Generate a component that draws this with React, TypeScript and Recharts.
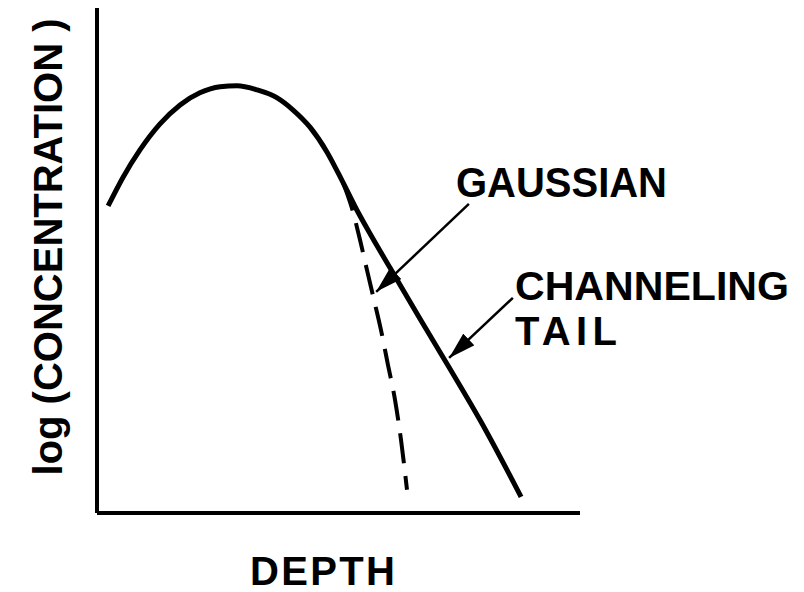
import * as React from "react"
import { ComposedChart, Line, ReferenceLine, XAxis, YAxis } from "recharts"

// implanted profile with channeling tail (solid)
const tailDepth = [2.3, 5.4, 8.9, 13.0, 17.2, 21.3, 25.5, 29.0, 33.1, 37.3, 40.6, 44.1, 47.6, 50.9, 53.8, 56.9, 60.7, 66.9, 73.1, 79.3, 87.8]
const tailLog = [60.8, 66.5, 71.9, 77.0, 80.8, 83.2, 84.4, 84.6, 83.8, 82.2, 79.8, 76.4, 71.5, 65.5, 60.0, 54.7, 48.5, 38.4, 28.5, 18.4, 3.2]

// ideal gaussian fall-off (dashed)
const gaussDepth = [50.9, 52.8, 54.45, 55.9, 57.35, 58.8, 60.25, 61.7, 62.94, 64.18]
const gaussLog = [65.5, 60.3, 54.1, 48.1, 42.2, 36.2, 29.3, 22.4, 14.5, 4.6]

// arrow pointers: [fromX, fromY, toX, toY]
const gaussArrow = [77.0, 61.2, 57.8, 43.8]
const tailArrow = [86.1, 42.6, 72.9, 30.7]

const tailData = tailDepth.map((x, i) => ({ x, y: tailLog[i] }))
const gaussData = gaussDepth.map((x, i) => ({ x, y: gaussLog[i] }))

const font = "'Liberation Sans', Arial, Helvetica, sans-serif"

const arrowShape = (p: any) => (
  <line
    x1={p.x1}
    y1={p.y1}
    x2={p.x2}
    y2={p.y2}
    stroke="#000"
    strokeWidth={2.5}
    markerEnd="url(#arrowHead)"
  />
)

export default function App() {
  return (
    <div style={{ position: "absolute", left: 0, top: 0, width: 804, height: 592, background: "#fff" }}>
      <svg width={0} height={0} style={{ position: "absolute" }}>
        <defs>
          <marker
            id="arrowHead"
            markerUnits="userSpaceOnUse"
            markerWidth={27}
            markerHeight={16}
            refX={27}
            refY={8}
            orient="auto"
          >
            <path d="M0,0 L27,8 L0,16 Z" fill="#000" />
          </marker>
        </defs>
      </svg>
      <ComposedChart
        width={804}
        height={592}
        margin={{ top: 8, right: 224, bottom: 49, left: 67 }}
      >
        <XAxis
          type="number"
          dataKey="x"
          domain={[0, 100]}
          height={30}
          tick={false}
          tickLine={false}
          axisLine={{ stroke: "#000", strokeWidth: 4 }}
        />
        <YAxis
          type="number"
          dataKey="y"
          domain={[0, 100]}
          width={30}
          tick={false}
          tickLine={false}
          axisLine={{ stroke: "#000", strokeWidth: 4 }}
        />
        <Line
          data={gaussData}
          type="monotone"
          dataKey="y"
          stroke="#000"
          strokeWidth={4}
          strokeDasharray="30 13"
          dot={false}
          activeDot={false}
          isAnimationActive={false}
        />
        <Line
          data={tailData}
          type="monotone"
          dataKey="y"
          stroke="#000"
          strokeWidth={5}
          dot={false}
          activeDot={false}
          isAnimationActive={false}
        />
        <ReferenceLine
          segment={[
            { x: gaussArrow[0], y: gaussArrow[1] },
            { x: gaussArrow[2], y: gaussArrow[3] },
          ]}
          shape={arrowShape}
        />
        <ReferenceLine
          segment={[
            { x: tailArrow[0], y: tailArrow[1] },
            { x: tailArrow[2], y: tailArrow[3] },
          ]}
          shape={arrowShape}
        />
        <text x={456} y={197} fontFamily={font} fontWeight="bold" fontSize={42} textLength={211} lengthAdjust="spacingAndGlyphs">
          GAUSSIAN
        </text>
        <text x={515} y={300} fontFamily={font} fontWeight="bold" fontSize={40} textLength={274} lengthAdjust="spacingAndGlyphs">
          CHANNELING
        </text>
        <text x={515} y={345} fontFamily={font} fontWeight="bold" fontSize={40} textLength={102} lengthAdjust="spacing">
          TAIL
        </text>
        <text x={250} y={585} fontFamily={font} fontWeight="bold" fontSize={40} textLength={145} lengthAdjust="spacing">
          DEPTH
        </text>
        <text
          x={0}
          y={0}
          transform="translate(62, 247) rotate(-90)"
          textAnchor="middle"
          fontFamily={font}
          fontWeight="bold"
          fontSize={40}
        >
          log (CONCENTRATION )
        </text>
      </ComposedChart>
    </div>
  )
}
